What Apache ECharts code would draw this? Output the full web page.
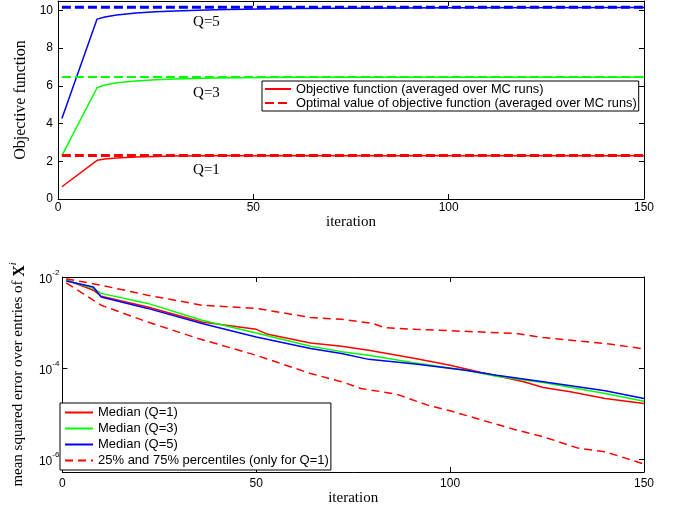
<!DOCTYPE html>
<html>
<head>
<meta charset="utf-8">
<script src="https://cdn.jsdelivr.net/npm/echarts@6/dist/echarts.min.js"></script>
<style>
html, body { margin: 0; padding: 0; background: #fff; }
#main { width: 673px; height: 510px; }
</style>
</head>
<body>
<div id="main"></div>
<script>
// ---- top panel: objective function vs iteration ----
var objIter = [1, 10, 12, 15, 20, 25, 30, 40, 60, 100, 150];
var objQ1 = [0.65, 2.05, 2.12, 2.18, 2.23, 2.26, 2.28, 2.30, 2.30, 2.30, 2.30];
var objQ3 = [2.30, 5.90, 6.05, 6.17, 6.26, 6.33, 6.37, 6.42, 6.45, 6.46, 6.46];
var objQ5 = [4.27, 9.54, 9.65, 9.76, 9.87, 9.93, 9.97, 10.03, 10.10, 10.14, 10.15];
var optIter = [1, 150];
var optQ1 = [2.31, 2.31];
var optQ3 = [6.47, 6.47];
var optQ5 = [10.17, 10.17];

// ---- bottom panel: log10 of mean squared error ----
var q75Iter = [1, 10, 22, 36, 50, 64, 72, 80, 83, 91, 117, 124, 140, 150];
var q75Exp = [-2.04, -2.18, -2.40, -2.62, -2.69, -2.89, -2.93, -3.02, -3.11, -3.15, -3.24, -3.33, -3.46, -3.58];
var q25Iter = [1, 10, 22, 35, 50, 64, 72, 77, 86, 94, 100, 117, 124, 133, 140, 150];
var q25Exp = [-2.13, -2.62, -2.99, -3.35, -3.72, -4.12, -4.30, -4.45, -4.57, -4.81, -4.94, -5.36, -5.51, -5.76, -5.84, -6.11];
var med1Iter = [1, 8, 10, 22, 36, 50, 53, 64, 72, 79, 91, 100, 108, 119, 124, 131, 140, 150];
var med1Exp = [-2.06, -2.29, -2.42, -2.66, -2.99, -3.15, -3.26, -3.45, -3.52, -3.61, -3.79, -3.94, -4.10, -4.30, -4.43, -4.52, -4.67, -4.78];
var med3Iter = [1, 8, 10, 22, 36, 50, 64, 72, 79, 91, 104, 112, 124, 140, 150];
var med3Exp = [-2.07, -2.25, -2.36, -2.58, -2.95, -3.23, -3.52, -3.64, -3.72, -3.89, -4.05, -4.18, -4.32, -4.56, -4.73];
var med5Iter = [1, 8, 10, 22, 36, 50, 64, 72, 79, 91, 104, 112, 124, 140, 150];
var med5Exp = [-2.09, -2.22, -2.44, -2.69, -3.02, -3.32, -3.57, -3.68, -3.81, -3.91, -4.05, -4.16, -4.30, -4.50, -4.67];

var qLabels = [
  {text: 'Q=1', at: [38, 1.54]},
  {text: 'Q=3', at: [38, 5.62]},
  {text: 'Q=5', at: [38, 9.38]}
];

var RED = '#ff0000', GREEN = '#00ff00', BLUE = '#0000ff';
var SANS = 'Liberation Sans';
var SERIF = 'Liberation Serif';

function pairs(xs, ys) {
  return xs.map(function (x, i) { return [x, ys[i]]; });
}

function line(name, xs, ys, color, width, dash, xi, yi) {
  return {
    name: name, type: 'line', xAxisIndex: xi, yAxisIndex: yi,
    data: pairs(xs, ys), symbol: 'none', showSymbol: false,
    lineStyle: {color: color, width: width, type: dash || 'solid'},
    itemStyle: {color: color},
    emphasis: {disabled: true}
  };
}

function qMark(idx) {
  var q = qLabels[idx];
  return {
    symbol: 'circle', symbolSize: 0,
    label: {show: true, position: 'inside', formatter: q.text, color: '#000',
            fontFamily: SERIF, fontSize: 15},
    data: [{coord: q.at}]
  };
}

function axLine() { return {show: true, onZero: false, lineStyle: {color: '#000', width: 1}}; }
function axTick() { return {show: true, inside: true, length: 5, lineStyle: {color: '#000', width: 1}}; }

function xAx(grid, pos, labels, nameGap, margin) {
  return {
    type: 'value', gridIndex: grid, position: pos, min: 0, max: 150, interval: 50,
    axisLine: axLine(), axisTick: axTick(), splitLine: {show: false},
    axisLabel: {show: labels, color: '#000', fontFamily: SANS, fontSize: 12, margin: margin},
    name: labels ? 'iteration' : '', nameLocation: 'middle', nameGap: nameGap,
    nameTextStyle: {color: '#000', fontFamily: SERIF, fontSize: 15}
  };
}

var optDash = [9, 4];
var medDash = [8, 5];

var series = [
  line('Objective function (averaged over MC runs)', objIter, objQ1, RED, 1.5, null, 0, 0),
  line('obj3', objIter, objQ3, GREEN, 1.5, null, 0, 0),
  line('obj5', objIter, objQ5, BLUE, 1.5, null, 0, 0),
  line('Optimal value of objective function (averaged over MC runs)', optIter, optQ1, RED, 3, optDash, 0, 0),
  line('opt3', optIter, optQ3, GREEN, 2, optDash, 0, 0),
  line('opt5', optIter, optQ5, BLUE, 3, optDash, 0, 0),
  line('Median (Q=1)', med1Iter, med1Exp, RED, 1.5, null, 2, 2),
  line('Median (Q=3)', med3Iter, med3Exp, GREEN, 1.5, null, 2, 2),
  line('Median (Q=5)', med5Iter, med5Exp, BLUE, 1.5, null, 2, 2),
  line('25% and 75% percentiles (only for Q=1)', q75Iter, q75Exp, RED, 1.5, medDash, 2, 2),
  line('25% and 75% percentiles (only for Q=1)', q25Iter, q25Exp, RED, 1.5, medDash, 2, 2)
];
series[3].markPoint = qMark(0);
series[4].markPoint = qMark(1);
series[5].markPoint = qMark(2);

var noSymbol = {color: 'transparent', borderWidth: 0, opacity: 0};

var myChart = echarts.init(document.getElementById('main'));
var option = {
  animation: false,
  backgroundColor: '#fff',
  grid: [
    {left: 58, right: 29, top: 1, height: 198},
    {left: 58, right: 29, top: 277, height: 195}
  ],
  legend: [
    {
      left: 262, top: 81, orient: 'vertical',
      padding: [1, 2, 1, 2], itemGap: 0, itemWidth: 26, itemHeight: 12,
      backgroundColor: '#fff', borderColor: '#000', borderWidth: 1,
      itemStyle: noSymbol,
      textStyle: {color: '#000', fontFamily: SANS, fontSize: 12.8, lineHeight: 14},
      data: ['Objective function (averaged over MC runs)',
             'Optimal value of objective function (averaged over MC runs)']
    },
    {
      left: 60, top: 403, orient: 'vertical',
      padding: [2, 2, 2, 4], itemGap: 1, itemWidth: 28, itemHeight: 14,
      backgroundColor: '#fff', borderColor: '#000', borderWidth: 1,
      itemStyle: noSymbol,
      textStyle: {color: '#000', fontFamily: SANS, fontSize: 13, lineHeight: 15},
      data: ['Median (Q=1)', 'Median (Q=3)', 'Median (Q=5)',
             '25% and 75% percentiles (only for Q=1)']
    }
  ],
  xAxis: [
    xAx(0, 'bottom', true, 14, 3),
    xAx(0, 'top', false, 0, 3),
    xAx(1, 'bottom', true, 17, 6),
    xAx(1, 'top', false, 0, 6)
  ],
  yAxis: [
    {
      type: 'value', gridIndex: 0, position: 'left', min: 0, max: 10.5, interval: 2,
      axisLine: axLine(), axisTick: axTick(), splitLine: {show: false},
      axisLabel: {color: '#000', fontFamily: SANS, fontSize: 12, margin: 5, showMaxLabel: false},
      name: 'Objective function', nameLocation: 'middle', nameGap: 24,
      nameTextStyle: {color: '#000', fontFamily: SERIF, fontSize: 16}
    },
    {
      type: 'value', gridIndex: 0, position: 'right', min: 0, max: 10.5, interval: 2,
      axisLine: axLine(), axisTick: axTick(), splitLine: {show: false}, axisLabel: {show: false}
    },
    {
      type: 'value', gridIndex: 1, position: 'left', min: -6.285, max: -2,
      minInterval: 2, maxInterval: 2,
      axisLine: axLine(), axisTick: axTick(), splitLine: {show: false},
      axisLabel: {
        color: '#000', margin: 3, showMinLabel: false,
        formatter: function (v) { return '{b|10}{e|' + v + '}'; },
        rich: {
          b: {fontFamily: SANS, fontSize: 12, lineHeight: 17, verticalAlign: 'bottom', color: '#000'},
          e: {fontFamily: SANS, fontSize: 8, lineHeight: 8, verticalAlign: 'top', color: '#000'}
        }
      },
      name: 'mean squared error over entries of {x|X}{s|i}', nameLocation: 'middle', nameGap: 33,
      nameTextStyle: {
        color: '#000', fontFamily: SERIF, fontSize: 15,
        rich: {
          x: {fontFamily: SERIF, fontWeight: 'bold', fontSize: 16, lineHeight: 20, verticalAlign: 'bottom', color: '#000'},
          s: {fontFamily: SERIF, fontStyle: 'italic', fontSize: 10, lineHeight: 10, verticalAlign: 'top', color: '#000'}
        }
      }
    },
    {
      type: 'value', gridIndex: 1, position: 'right', min: -6.285, max: -2,
      minInterval: 2, maxInterval: 2,
      axisLine: axLine(), axisTick: axTick(), splitLine: {show: false}, axisLabel: {show: false}
    }
  ],
  series: series
};
myChart.setOption(option);
</script>
</body>
</html>
